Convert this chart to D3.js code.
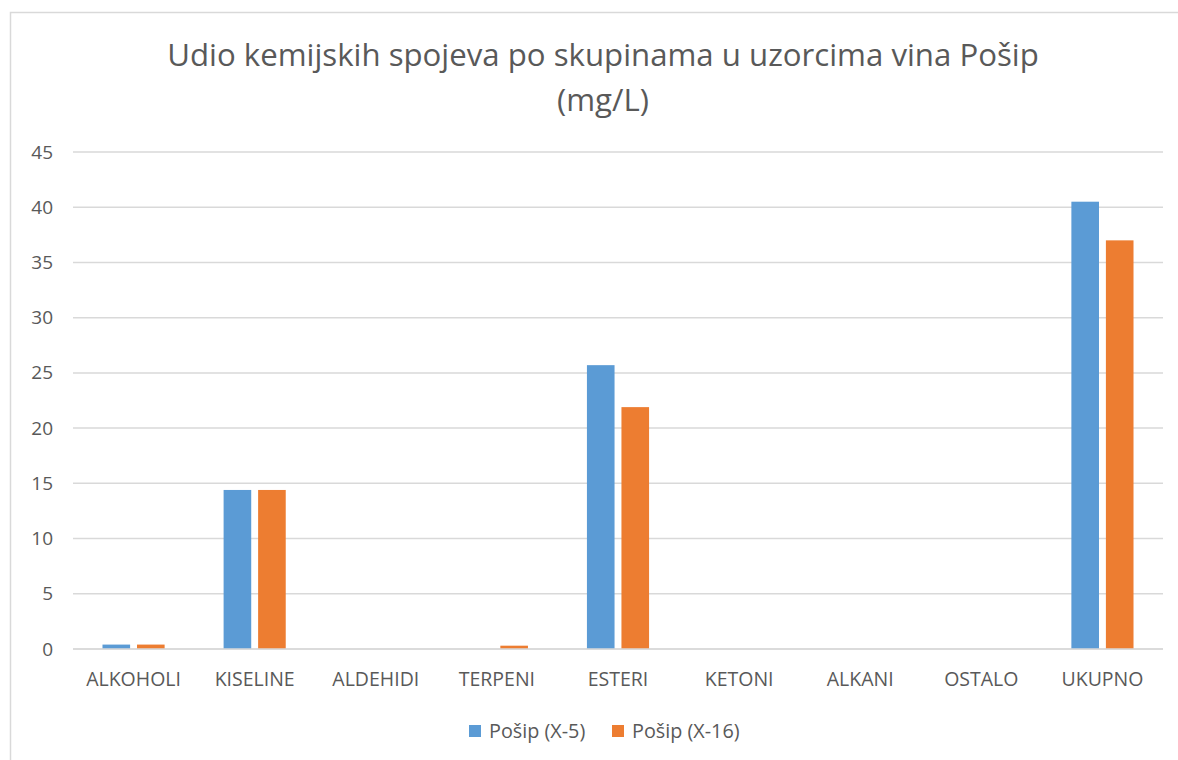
<!DOCTYPE html>
<html><head><meta charset="utf-8">
<script src="https://cdn.jsdelivr.net/npm/d3@7"></script>
<style>body{margin:0;background:#fff}svg{display:block}</style>
</head><body>
<svg id="c" width="1178" height="760"></svg>
<script>
const categories = ["ALKOHOLI","KISELINE","ALDEHIDI","TERPENI","ESTERI","KETONI","ALKANI","OSTALO","UKUPNO"];
const seriesNames = ["Pošip (X-5)","Pošip (X-16)"];
const valuesX5  = [0.4, 14.4, 0, 0,   25.7, 0, 0, 0, 40.5];
const valuesX16 = [0.4, 14.4, 0, 0.3, 21.9, 0, 0, 0, 37.0];
const yTicks = [0,5,10,15,20,25,30,35,40,45];
const colors = ["#5B9BD5","#ED7D31"];
const titleLines = ["Udio kemijskih spojeva po skupinama u uzorcima vina Pošip","(mg/L)"];

const svg = d3.select("#c");
const font = "'Open Sans', sans-serif";
const textCol = "#595959";

svg.append("rect").attr("x",10.5).attr("y",12.5).attr("width",1180).attr("height",760)
  .attr("fill","#fff").attr("stroke","#d9d9d9").attr("stroke-width",1.5);

const L = 73, R = 1163, T = 152, B = 649;
const y = d3.scaleLinear().domain([0,45]).range([B,T]);
const x0 = d3.scaleBand().domain(categories).range([L,R]).paddingInner(0.487).paddingOuter(0.2435);
const x1 = d3.scaleBand().domain([0,1]).range([0,x0.bandwidth()]).paddingInner(0.2);

// grid
svg.append("g").selectAll("line").data(yTicks).join("line")
  .attr("x1",L).attr("x2",R).attr("y1",d=>y(d)).attr("y2",d=>y(d))
  .attr("stroke","#d9d9d9").attr("stroke-width",1.5);

// y labels
const yAxis = d3.axisLeft(y).tickValues(yTicks).tickSize(0).tickPadding(0);
const gy = svg.append("g").attr("transform",`translate(${L-20},0)`).call(yAxis);
gy.select(".domain").remove();
gy.selectAll("text").attr("font-family",font).attr("font-size",19).attr("fill",textCol);

// bars
const data = categories.map((c,i)=>({c, v:[valuesX5[i], valuesX16[i]]}));
const g = svg.append("g");
data.forEach(d=>{
  d.v.forEach((v,j)=>{
    if (v<=0) return;
    g.append("rect").attr("x",x0(d.c)+x1(j)).attr("width",x1.bandwidth())
      .attr("y",y(v)).attr("height",y(0)-y(v)).attr("fill",colors[j]);
  });
});

// x axis
const xAxis = d3.axisBottom(x0).tickSize(0).tickPadding(0);
const gx = svg.append("g").attr("transform",`translate(0,${B+23})`).call(xAxis);
gx.select(".domain").remove();
gx.selectAll("text").attr("font-family",font).attr("font-size",19.5).attr("fill",textCol);
svg.append("line").attr("x1",L).attr("x2",R).attr("y1",B).attr("y2",B)
  .attr("stroke","#d9d9d9").attr("stroke-width",1.5);

// title
svg.append("g").selectAll("text").data(titleLines).join("text")
  .attr("x",603).attr("y",(d,i)=>65.5+i*45.5).attr("text-anchor","middle")
  .attr("font-family",font).attr("font-size",31.2).attr("fill",textCol).text(d=>d);

// legend
const leg = svg.append("g");
const legX = [469, 612];
seriesNames.forEach((s,i)=>{
  leg.append("rect").attr("x",legX[i]).attr("y",725).attr("width",12).attr("height",12).attr("fill",colors[i]);
  leg.append("text").attr("x",legX[i]+20).attr("y",737.5).attr("font-family",font).attr("font-size",19.8)
    .attr("fill",textCol).text(s);
});
</script>
</body></html>
